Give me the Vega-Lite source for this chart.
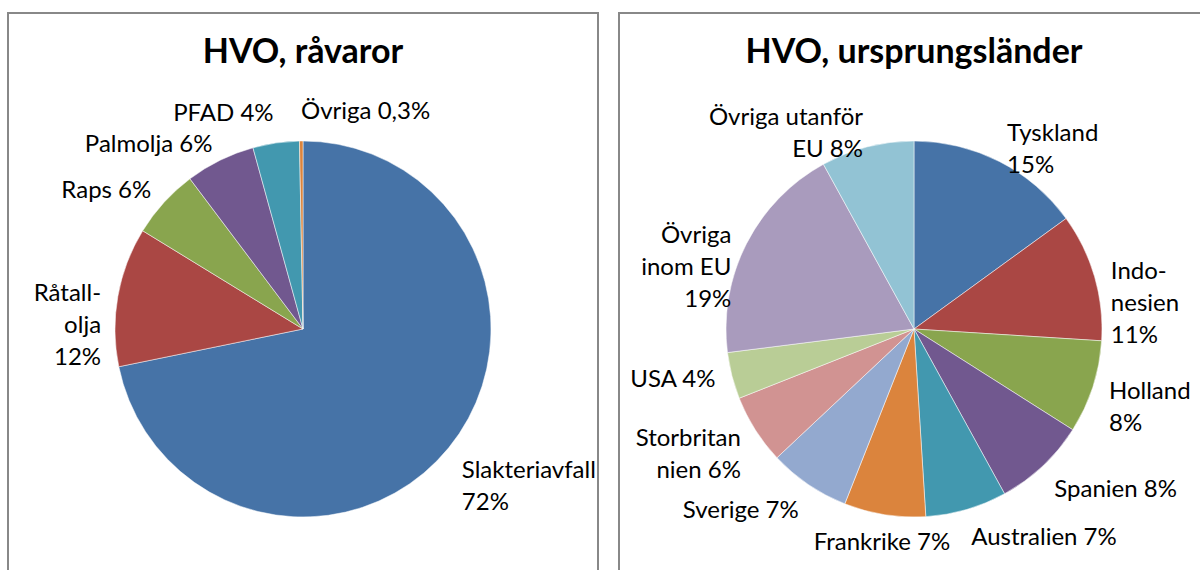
{
  "$schema": "https://vega.github.io/schema/vega-lite/v6.json",
  "background": "white",
  "padding": {"left": 7, "top": 12, "right": 0, "bottom": 0},
  "spacing": 19,
  "config": {
    "view": {"stroke": "#888888", "strokeWidth": 2},
    "font": "Lato",
    "title": {"font": "Lato", "fontSize": 34, "fontWeight": "bold", "color": "#000000", "anchor": "middle", "baseline": "alphabetic", "offset": -57}
  },
  "datasets": {
    "raw": [
      {"i": 1, "k": "Slakteriavfall", "v": 72, "label": "Slakteriavfall\n72%"},
      {"i": 2, "k": "Råtallolja", "v": 12, "label": "Råtall-\nolja\n12%"},
      {"i": 3, "k": "Raps", "v": 6, "label": "Raps 6%"},
      {"i": 4, "k": "Palmolja", "v": 6, "label": "Palmolja 6%"},
      {"i": 5, "k": "PFAD", "v": 4, "label": "PFAD 4%"},
      {"i": 6, "k": "Övriga", "v": 0.3, "label": "Övriga 0,3%"}
    ],
    "land": [
      {"i": 1, "k": "Tyskland", "v": 15, "label": "Tyskland\n15%"},
      {"i": 2, "k": "Indonesien", "v": 11, "label": "Indo-\nnesien\n11%"},
      {"i": 3, "k": "Holland", "v": 8, "label": "Holland\n8%"},
      {"i": 4, "k": "Spanien", "v": 8, "label": "Spanien  8%"},
      {"i": 5, "k": "Australien", "v": 7, "label": "Australien 7%"},
      {"i": 6, "k": "Frankrike", "v": 7, "label": "Frankrike 7%"},
      {"i": 7, "k": "Sverige", "v": 7, "label": "Sverige 7%"},
      {"i": 8, "k": "Storbritannien", "v": 6, "label": "Storbritan\nnien 6%"},
      {"i": 9, "k": "USA", "v": 4, "label": "USA 4%"},
      {"i": 10, "k": "Övriga inom EU", "v": 19, "label": "Övriga\ninom EU\n19%"},
      {"i": 11, "k": "Övriga utanför EU", "v": 8, "label": "Övriga utanför\nEU 8%"}
    ]
  },
  "resolve": {"scale": {"color": "independent", "theta": "independent"}},
  "hconcat": [
    {
      "width": 590,
      "height": 632,
      "view": {"stroke": "#888888", "strokeWidth": 2, "fill": "white"},
      "title": {"text": "HVO, råvaror"},
      "data": {"name": "raw"},
      "layer": [
        {
          "mark": {"type": "arc", "outerRadius": 188, "stroke": "#ffffff", "strokeWidth": 0.5},
          "encoding": {
            "theta": {"field": "v", "type": "quantitative", "stack": true},
            "order": {"field": "i", "type": "quantitative"},
            "color": {"field": "k", "type": "nominal", "legend": null,
              "scale": {"domain": ["Slakteriavfall", "Råtallolja", "Raps", "Palmolja", "PFAD", "Övriga"],
                        "range": ["#4673A7", "#AA4744", "#89A54E", "#71588F", "#4298AF", "#DB843D"]}}
          }
        },
        {
          "mark": {"type": "text", "radius": 205, "fontSize": 24, "font": "Lato", "color": "#000000", "lineBreak": "\n", "lineHeight": 32,
            "align": {"expr": "abs(sin(PI*(datum.v_start+datum.v_end)/100.3)) < 0.2 && cos(PI*(datum.v_start+datum.v_end)/100.3) < 0 ? 'center' : (sin(PI*(datum.v_start+datum.v_end)/100.3) < -0.05 ? 'right' : 'left')"},
            "baseline": {"expr": "cos(PI*(datum.v_start+datum.v_end)/100.3) > (sin(PI*(datum.v_start+datum.v_end)/100.3) > 0 ? 0.85 : 0.95) ? 'bottom' : (cos(PI*(datum.v_start+datum.v_end)/100.3) < -0.55 ? 'top' : 'middle')"}},
          "encoding": {
            "theta": {"field": "v", "type": "quantitative", "stack": true},
            "order": {"field": "i", "type": "quantitative"},
            "text": {"field": "label", "type": "nominal"}
          }
        }
      ]
    },
    {
      "width": 590,
      "height": 632,
      "view": {"stroke": "#888888", "strokeWidth": 2, "fill": "white"},
      "title": {"text": "HVO, ursprungsländer"},
      "data": {"name": "land"},
      "layer": [
        {
          "mark": {"type": "arc", "outerRadius": 188, "stroke": "#ffffff", "strokeWidth": 0.5},
          "encoding": {
            "theta": {"field": "v", "type": "quantitative", "stack": true},
            "order": {"field": "i", "type": "quantitative"},
            "color": {"field": "k", "type": "nominal", "legend": null,
              "scale": {"domain": ["Tyskland", "Indonesien", "Holland", "Spanien", "Australien", "Frankrike", "Sverige", "Storbritannien", "USA", "Övriga inom EU", "Övriga utanför EU"],
                        "range": ["#4673A7", "#AA4744", "#89A54E", "#71588F", "#4298AF", "#DB843D", "#93A9CF", "#D19392", "#B9CD96", "#A99BBD", "#92C3D4"]}}
          }
        },
        {
          "mark": {"type": "text", "radius": 205, "fontSize": 24, "font": "Lato", "color": "#000000", "lineBreak": "\n", "lineHeight": 32,
            "align": {"expr": "abs(sin(PI*(datum.v_start+datum.v_end)/100)) < 0.2 && cos(PI*(datum.v_start+datum.v_end)/100) < 0 ? 'center' : (sin(PI*(datum.v_start+datum.v_end)/100) < -0.05 ? 'right' : 'left')"},
            "baseline": {"expr": "cos(PI*(datum.v_start+datum.v_end)/100) > (sin(PI*(datum.v_start+datum.v_end)/100) > 0 ? 0.85 : 0.95) ? 'bottom' : (cos(PI*(datum.v_start+datum.v_end)/100) < -0.55 ? 'top' : 'middle')"}},
          "encoding": {
            "theta": {"field": "v", "type": "quantitative", "stack": true},
            "order": {"field": "i", "type": "quantitative"},
            "text": {"field": "label", "type": "nominal"}
          }
        }
      ]
    }
  ]
}
